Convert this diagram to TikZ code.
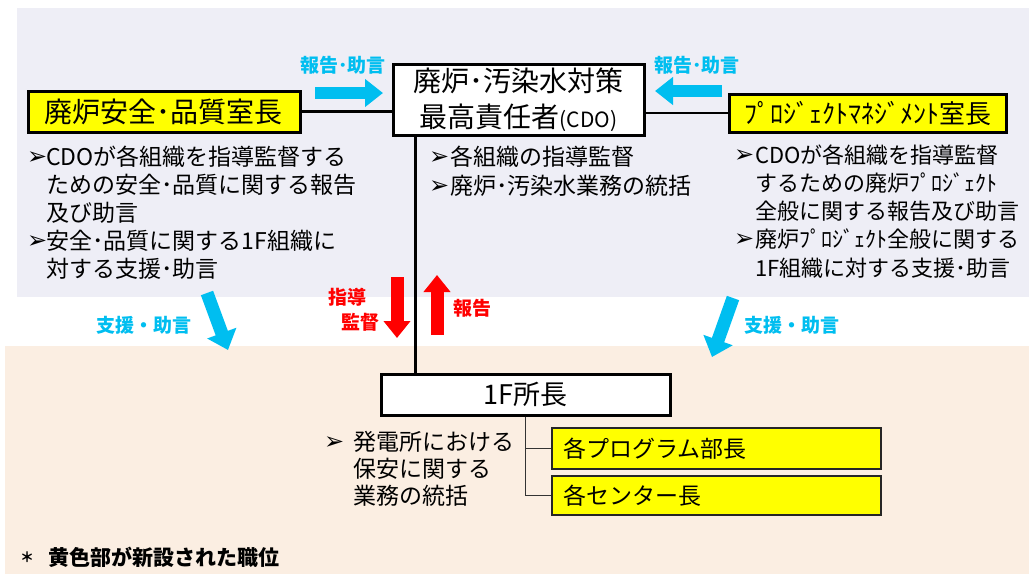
\documentclass[tikz,border=0pt]{standalone}
\usepackage{fontspec}
\setmainfont{Noto Sans CJK JP}
\newfontfamily\djv{DejaVu Sans}
\usetikzlibrary{arrows.meta}
\definecolor{topbg}{HTML}{EEEEF6}
\definecolor{botbg}{HTML}{FBEEE2}
\definecolor{cyanA}{HTML}{00BEF0}
\definecolor{redA}{HTML}{FF0000}
\definecolor{yel}{HTML}{FFFF00}
\begin{document}
\begin{tikzpicture}[x=1pt,y=-1pt,
  mainbox/.style={draw, line width=3pt, fill=white, inner sep=0pt, align=center},
  yelbox/.style={mainbox, fill=yel},
  subbox/.style={draw=black!85, line width=1.5pt, fill=yel, inner xsep=11pt, inner ysep=0pt,
    text width=307pt, align=left, minimum height=#1, font=\fontsize{23}{23}\selectfont},
  txt/.style={anchor=west, inner sep=0pt, font=\fontsize{23}{23}\selectfont, text height=20pt, text depth=2.5pt},
  rtxt/.style={txt, font=\fontsize{22}{22}\selectfont},
  bul/.style={anchor=west, inner sep=0pt, font=\djv\fontsize{24}{24}\selectfont},
  bluelbl/.style={inner sep=0pt, text=cyanA, font=\bfseries\fontsize{19}{19}\selectfont},
  redlbl/.style={inner sep=0pt, text=redA, font=\bfseries\fontsize{19}{19}\selectfont},
  link/.style={line width=2.5pt},
  sublink/.style={line width=1.5pt, draw=black!80},
  bluearr/.style={draw=cyanA, line width=12pt, -{Triangle[width=27pt,length=18pt]}},
  bluediag/.style={draw=cyanA, line width=13pt, -{Triangle[width=30pt,length=18pt]}},
  redarr/.style={draw=redA, line width=13pt, -{Triangle[width=26pt,length=17pt]}}
]
\useasboundingbox (0,0) rectangle (1029,574);
\fill[white] (0,0) rectangle (1029,574);
\fill[topbg] (17,8) rectangle (1029,297);
\fill[botbg] (5,346) rectangle (1029,574);

% main boxes
\node[yelbox, minimum width=272pt, minimum height=41pt, font=\fontsize{28}{28}\selectfont] (lbox) at (164,111.5) {廃炉安全･品質室長};
\node[mainbox, minimum width=251pt, minimum height=71pt, font=\fontsize{28}{36}\selectfont] (cdo) at (518.5,99.5)
  {廃炉･汚染水対策\\最高責任者{\fontsize{21}{21}\selectfont (CDO)}};
\node[yelbox, minimum width=277pt, minimum height=38pt, font=\fontsize{26}{26}\selectfont] (rbox) at (867.5,113) {ﾌﾟﾛｼﾞｪｸﾄﾏﾈｼﾞﾒﾝﾄ室長};
\node[mainbox, minimum width=289pt, minimum height=41pt, font=\fontsize{27}{27}\selectfont] (f1) at (525.5,394.5) {1F所長};
\node[subbox=41pt] (sub1) at (716.5,448.5) {各プログラム部長};
\node[subbox=39pt] (sub2) at (716.5,495.5) {各センター長};

% connectors
\draw[link] (lbox.east) -- (lbox.east -| cdo.west);
\draw[link] (rbox.west) -- (rbox.west -| cdo.east);
\draw[link] ([xshift=24pt]cdo.south west) -- ([xshift=24pt]cdo.south west |- f1.north);
\draw[sublink] (f1.south) |- (sub1.west);
\draw[sublink] (f1.south) |- (sub2.west);

% left bullets
\node[bul] (lb1) at (27,158) {➢};
\node[txt] (lt1) at (46,157) {CDOが各組織を指導監督する};
\node[txt] (lt2) at (46,185) {ための安全･品質に関する報告};
\node[txt] (lt3) at (46,213) {及び助言};
\node[bul] (lb2) at (27,242) {➢};
\node[txt] (lt4) at (46,241) {安全･品質に関する1F組織に};
\node[txt] (lt5) at (46,269) {対する支援･助言};

% center bullets
\node[bul] (cb1) at (429,158) {➢};
\node[txt] (ct1) at (450,157) {各組織の指導監督};
\node[bul] (cb2) at (429,187) {➢};
\node[txt] (ct2) at (450,186) {廃炉･汚染水業務の統括};

% right bullets
\node[bul] (rb1) at (734,156) {➢};
\node[rtxt] (rt1) at (755,155) {CDOが各組織を指導監督};
\node[rtxt] (rt2) at (755,183) {するための廃炉ﾌﾟﾛｼﾞｪｸﾄ};
\node[rtxt] (rt3) at (755,211) {全般に関する報告及び助言};
\node[bul] (rb2) at (734,240) {➢};
\node[rtxt] (rt4) at (755,239) {廃炉ﾌﾟﾛｼﾞｪｸﾄ全般に関する};
\node[rtxt] (rt5) at (755,268) {1F組織に対する支援･助言};

% 1F bullets
\node[bul] (fb1) at (324,443) {➢};
\node[txt] (ft1) at (353,442) {発電所における};
\node[txt] (ft2) at (353,469) {保安に関する};
\node[txt] (ft3) at (353,496) {業務の統括};

% blue labels and arrows
\node[bluelbl] (bl1) at (343,65) {報告･助言};
\node[bluelbl] (bl2) at (697,65) {報告･助言};
\node[bluelbl] (bl3) at (144,325) {支援・助言};
\node[bluelbl] (bl4) at (792,325) {支援・助言};
\coordinate (ba1s) at (315,93);  \coordinate (ba1e) at (383,93);
\coordinate (ba2s) at (722,91);  \coordinate (ba2e) at (655,91);
\coordinate (ba3s) at (207,293); \coordinate (ba3e) at (228,350);
\coordinate (ba4s) at (733,298); \coordinate (ba4e) at (712,357);
\draw[bluearr] (ba1s) -- (ba1e);
\draw[bluearr] (ba2s) -- (ba2e);
\draw[bluediag] (ba3s) -- (ba3e);
\draw[bluediag] (ba4s) -- (ba4e);

% red labels and arrows
\node[redlbl, anchor=east] (rl1) at (367,297) {指導};
\node[redlbl, anchor=east] (rl2) at (380,322) {監督};
\node[redlbl, anchor=west] (rl3) at (453,308) {報告};
\coordinate (ra1s) at (397,277); \coordinate (ra1e) at (397,338);
\coordinate (ra2s) at (437,335); \coordinate (ra2e) at (437,275);
\draw[redarr] (ra1s) -- (ra1e);
\draw[redarr] (ra2s) -- (ra2e);

% footnote
\node[inner sep=0pt, font=\bfseries\fontsize{14}{14}\selectfont] (ast) at (27,557) {＊};
\node[anchor=west, inner sep=0pt, font=\bfseries\fontsize{21}{21}\selectfont] (note) at (48,557) {黄色部が新設された職位};
\end{tikzpicture}
\end{document}
